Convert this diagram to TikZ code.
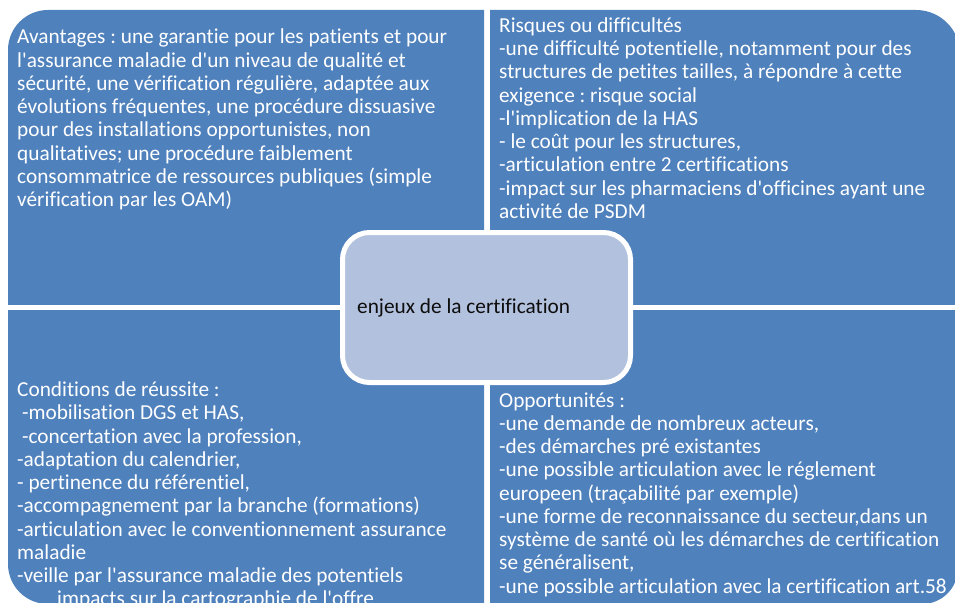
\documentclass[tikz,border=0pt]{standalone}
\usepackage{fontspec}
\setmainfont{Carlito}[Ligatures={TeXOff,CommonOff},RawFeature={-liga;-clig}]
\definecolor{quadblue}{HTML}{4F81BD}
\definecolor{centerblue}{HTML}{B2C1DD}
\definecolor{darktext}{HTML}{0D0D0D}
\frenchspacing
\begin{document}
\begin{tikzpicture}[x=1pt,y=-1pt,
  quad/.style={fill=quadblue},
  qtext/.style={anchor=base west,inner sep=0pt,text=white,font=\fontsize{21.3}{23.25}\selectfont},
  ctext/.style={anchor=base west,inner sep=0pt,text=darktext,font=\fontsize{21.3}{23.25}\selectfont},
  hub/.style={draw=white,line width=5pt,fill=centerblue,rounded corners=27pt,minimum width=288pt,minimum height=150pt,inner sep=0pt}
]
\useasboundingbox (0,0) rectangle (955,602);
\fill[white] (0,0) rectangle (955,602);
\clip (0,0) rectangle (955,602);
% quadrants
\begin{scope}
  \clip (8,10) rectangle (484,304);
  \fill[quad,rounded corners=40pt] (8,10) rectangle (584,404);
\end{scope}
\begin{scope}
  \clip (490,10) rectangle (958,304);
  \fill[quad,rounded corners=44pt] (390,10) rectangle (960,404);
\end{scope}
\begin{scope}
  \clip (8,310) rectangle (484,604);
  \fill[quad,rounded corners=40pt] (8,210) rectangle (584,604);
\end{scope}
\begin{scope}
  \clip (490,310) rectangle (958,604);
  \fill[quad,rounded corners=36pt] (390,210) rectangle (958,604);
\end{scope}
\renewcommand{\arraystretch}{1}
% texts
\node[qtext] (avantages) at (17,44) {\begin{tabular}[t]{@{}l@{}}
Avantages : une garantie pour les patients et pour\\
l'assurance maladie d'un niveau de qualité et\\
sécurité, une vérification régulière, adaptée aux\\
évolutions fréquentes, une procédure dissuasive\\
pour des installations opportunistes, non\\
qualitatives; une procédure faiblement\\
consommatrice de ressources publiques (simple\\
vérification par les OAM)
\end{tabular}};
\node[qtext] (risques) at (499,32.3) {\begin{tabular}[t]{@{}l@{}}
Risques ou difficultés\\
-une difficulté potentielle, notamment pour des\\
structures de petites tailles, à répondre à cette\\
exigence : risque social\\
-l'implication de la HAS\\
- le coût pour les structures,\\
-articulation entre 2 certifications\\
-impact sur les pharmaciens d'officines ayant une\\
activité de PSDM
\end{tabular}};
\node[qtext] (conditions) at (17,396.7) {\begin{tabular}[t]{@{}l@{}}
Conditions de réussite :\\
\ -mobilisation DGS et HAS,\\
\ -concertation avec la profession,\\
-adaptation du calendrier,\\
- pertinence du référentiel,\\
-accompagnement par la branche (formations)\\
-articulation avec le conventionnement assurance\\
maladie\\
-veille par l'assurance maladie des potentiels\\
\hspace{40pt}impacts sur la cartographie de l'offre
\end{tabular}};
\node[qtext] (opportunites) at (499,407) {\begin{tabular}[t]{@{}l@{}}
Opportunités :\\
-une demande de nombreux acteurs,\\
-des démarches pré existantes\\
-une possible articulation avec le réglement\\
europeen (traçabilité par exemple)\\
-une forme de reconnaissance du secteur,dans un\\
système de santé où les démarches de certification\\
se généralisent,\\
-une possible articulation avec la certification art.58
\end{tabular}};
% hub
\node[hub] (hub) at (486.5,307.5) {};
\node[ctext] (enjeux) at (357,313) {enjeux de la certification};
\end{tikzpicture}
\end{document}
